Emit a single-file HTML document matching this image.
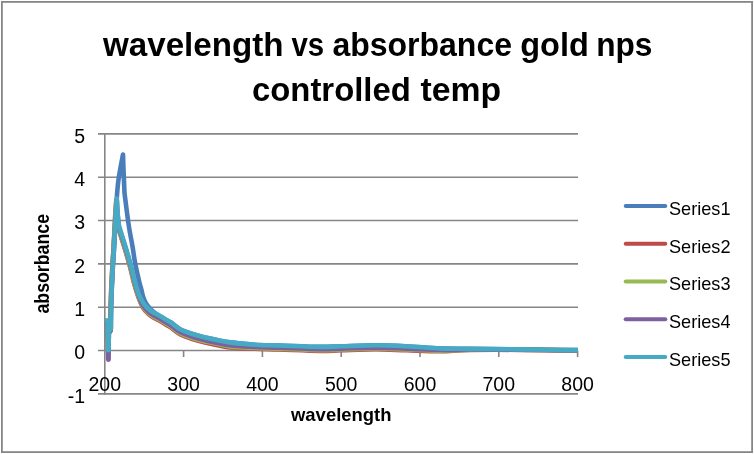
<!DOCTYPE html>
<html><head><meta charset="utf-8"><style>
html,body{margin:0;padding:0;background:#fff;}
svg{display:block;will-change:transform;}
text{font-family:"Liberation Sans",sans-serif;fill:#000;}
</style></head><body>
<svg width="754" height="454" viewBox="0 0 754 454">
<rect x="1.9" y="1.9" width="750.2" height="450.2" fill="#fff" stroke="#868686" stroke-width="1.8"/>
<g font-weight="bold" font-size="33.5"><text x="103.00" y="56" textLength="180.51" lengthAdjust="spacingAndGlyphs">wavelength</text><text x="291.50" y="56" textLength="32.71" lengthAdjust="spacingAndGlyphs">vs</text><text x="332.45" y="56" textLength="179.55" lengthAdjust="spacingAndGlyphs">absorbance</text><text x="520.23" y="56" textLength="68.59" lengthAdjust="spacingAndGlyphs">gold</text><text x="596.21" y="56" textLength="56.27" lengthAdjust="spacingAndGlyphs">nps</text><text x="252.02" y="101" textLength="158.78" lengthAdjust="spacingAndGlyphs">controlled</text><text x="420.40" y="101" textLength="80.65" lengthAdjust="spacingAndGlyphs">temp</text></g>
<g stroke="#868686" stroke-width="1.6">
<line x1="98" y1="133.90" x2="578" y2="133.90" /><line x1="98" y1="177.23" x2="578" y2="177.23" /><line x1="98" y1="220.56" x2="578" y2="220.56" /><line x1="98" y1="263.89" x2="578" y2="263.89" /><line x1="98" y1="307.22" x2="578" y2="307.22" /><line x1="98" y1="350.55" x2="578" y2="350.55" /><line x1="98" y1="393.88" x2="578" y2="393.88" />
<line x1="104.8" y1="133.1" x2="104.8" y2="394.7" />
<line x1="183.60" y1="350.5" x2="183.60" y2="357" /><line x1="262.40" y1="350.5" x2="262.40" y2="357" /><line x1="341.20" y1="350.5" x2="341.20" y2="357" /><line x1="420.00" y1="350.5" x2="420.00" y2="357" /><line x1="498.80" y1="350.5" x2="498.80" y2="357" /><line x1="577.60" y1="350.5" x2="577.60" y2="357" />
</g>
<g font-size="19.5"><text x="85" y="142.7" text-anchor="end">5</text><text x="85" y="186.0" text-anchor="end">4</text><text x="85" y="229.4" text-anchor="end">3</text><text x="85" y="272.7" text-anchor="end">2</text><text x="85" y="316.0" text-anchor="end">1</text><text x="85" y="359.3" text-anchor="end">0</text><text x="85" y="402.7" text-anchor="end">-1</text><text x="104.80" y="390.8" text-anchor="middle">200</text><text x="183.60" y="390.8" text-anchor="middle">300</text><text x="262.40" y="390.8" text-anchor="middle">400</text><text x="341.20" y="390.8" text-anchor="middle">500</text><text x="420.00" y="390.8" text-anchor="middle">600</text><text x="498.80" y="390.8" text-anchor="middle">700</text><text x="577.60" y="390.8" text-anchor="middle">800</text></g>
<g font-size="19" font-weight="bold">
<text x="291" y="421.3" textLength="100.5" lengthAdjust="spacingAndGlyphs">wavelength</text>
<text font-size="19.5" transform="translate(48.6,313.5) rotate(-90)" textLength="99.5" lengthAdjust="spacingAndGlyphs">absorbance</text>
</g>
<defs><clipPath id="pa"><rect x="105" y="133" width="473" height="261"/></clipPath></defs>
<g clip-path="url(#pa)" fill="none" stroke-width="4.6" stroke-linejoin="round" stroke-linecap="round">
<path d="M100.00,320.70 C101.30,320.70 106.50,320.70 107.80,320.70 C107.87,325.63 108.13,345.37 108.20,350.30 C108.27,350.30 108.53,350.30 108.60,350.30 C108.63,347.08 108.77,334.22 108.80,331.00 C109.13,330.67 110.47,329.33 110.80,329.00 C110.85,324.17 110.65,313.17 111.10,300.00 C111.55,286.83 112.52,267.50 113.50,250.00 C114.48,232.50 116.08,207.27 117.00,195.00 C117.92,182.73 118.00,183.15 119.00,176.40 C120.00,169.65 122.33,158.15 123.00,154.50 C123.10,157.42 123.35,165.58 123.60,172.00 C123.85,178.42 124.35,189.50 124.50,193.00 C125.20,198.33 127.35,216.00 128.70,225.00 C130.05,234.00 131.52,240.58 132.60,247.00 C133.68,253.42 134.08,257.67 135.20,263.50 C136.32,269.33 138.25,277.58 139.30,282.00 C140.35,286.42 140.85,287.50 141.50,290.00 C142.15,292.50 142.45,294.75 143.20,297.00 C143.95,299.25 144.87,301.58 146.00,303.50 C147.13,305.42 148.50,306.92 150.00,308.50 C151.50,310.08 153.33,311.67 155.00,313.00 C156.67,314.33 157.17,314.83 160.00,316.50 C162.83,318.17 170.00,321.92 172.00,323.00 C173.33,324.03 176.60,327.37 180.00,329.20 C183.40,331.03 188.23,332.63 192.40,334.00 C196.57,335.37 198.73,336.00 205.00,337.40 C211.27,338.80 221.67,341.18 230.00,342.40 C238.33,343.62 246.67,344.18 255.00,344.70 C263.33,345.22 269.17,345.13 280.00,345.50 C290.83,345.87 309.83,346.77 320.00,346.90 C330.17,347.03 331.67,346.57 341.00,346.30 C350.33,346.03 365.00,345.30 376.00,345.30 C387.00,345.30 396.33,345.78 407.00,346.30 C417.67,346.82 429.50,347.97 440.00,348.40 C450.50,348.83 456.67,348.73 470.00,348.90 C483.33,349.07 501.67,349.18 520.00,349.40 C538.33,349.62 570.00,350.07 580.00,350.20" stroke="#4A7EBB" /><path d="M100.00,320.70 C101.30,321.10 106.50,322.70 107.80,323.10 C107.87,328.03 108.13,347.77 108.20,352.70 C108.27,352.70 108.53,352.70 108.60,352.70 C108.63,349.48 108.77,336.62 108.80,333.40 C109.03,333.07 109.97,331.73 110.20,331.40 C110.28,326.57 110.35,313.07 110.70,302.40 C111.05,291.73 111.82,276.57 112.30,267.40 C112.78,258.23 113.13,255.73 113.60,247.40 C114.07,239.07 114.67,225.15 115.10,217.40 C115.53,209.65 116.02,203.65 116.20,200.90 C116.35,203.48 116.73,211.82 117.10,216.40 C117.47,220.98 118.18,226.40 118.40,228.40 C119.50,231.90 123.10,243.15 125.00,249.40 C126.90,255.65 128.23,260.07 129.80,265.90 C131.37,271.73 132.95,279.15 134.40,284.40 C135.85,289.65 137.07,293.55 138.50,297.40 C139.93,301.25 141.50,304.90 143.00,307.50 C144.50,310.10 145.83,311.38 147.50,313.00 C149.17,314.62 150.92,315.88 153.00,317.20 C155.08,318.52 156.83,319.05 160.00,320.90 C163.17,322.75 170.00,327.07 172.00,328.30 C173.33,329.28 176.60,332.42 180.00,334.20 C183.40,335.98 188.23,337.63 192.40,339.00 C196.57,340.37 198.73,341.00 205.00,342.40 C211.27,343.80 221.67,346.35 230.00,347.40 C238.33,348.45 246.67,348.35 255.00,348.70 C263.33,349.05 269.17,349.13 280.00,349.50 C290.83,349.87 309.83,350.77 320.00,350.90 C330.17,351.03 331.67,350.57 341.00,350.30 C350.33,350.03 365.00,349.30 376.00,349.30 C387.00,349.30 396.33,349.98 407.00,350.30 C417.67,350.62 429.50,351.28 440.00,351.23 C450.50,351.17 456.67,350.19 470.00,349.97 C483.33,349.74 501.67,349.76 520.00,349.88 C538.33,350.00 570.00,350.55 580.00,350.68" stroke="#BE4B48" /><path d="M100.00,320.70 C101.30,321.02 106.50,322.30 107.80,322.62 C107.87,327.55 108.13,347.29 108.20,352.22 C108.27,352.22 108.53,352.22 108.60,352.22 C108.63,349.00 108.77,336.14 108.80,332.92 C109.07,332.59 110.13,331.25 110.40,330.92 C110.48,326.09 110.55,312.59 110.90,301.92 C111.25,291.25 112.02,276.09 112.50,266.92 C112.98,257.75 113.33,255.25 113.80,246.92 C114.27,238.59 114.87,224.67 115.30,216.92 C115.73,209.17 116.22,203.17 116.40,200.42 C116.55,203.00 116.93,211.34 117.30,215.92 C117.67,220.50 118.38,225.92 118.60,227.92 C119.70,231.42 123.30,242.67 125.20,248.92 C127.10,255.17 128.43,259.59 130.00,265.42 C131.57,271.25 133.15,278.67 134.60,283.92 C136.05,289.17 137.30,293.16 138.70,296.92 C140.10,300.68 141.53,303.99 143.00,306.50 C144.47,309.01 145.83,310.38 147.50,312.00 C149.17,313.62 150.92,314.88 153.00,316.20 C155.08,317.52 156.83,318.05 160.00,319.90 C163.17,321.75 170.00,326.07 172.00,327.30 C173.33,328.28 176.60,331.42 180.00,333.20 C183.40,334.98 188.23,336.63 192.40,338.00 C196.57,339.37 198.73,340.00 205.00,341.40 C211.27,342.80 221.67,345.32 230.00,346.40 C238.33,347.48 246.67,347.52 255.00,347.90 C263.33,348.28 269.17,348.33 280.00,348.70 C290.83,349.07 309.83,349.97 320.00,350.10 C330.17,350.23 331.67,349.77 341.00,349.50 C350.33,349.23 365.00,348.50 376.00,348.50 C387.00,348.50 396.33,349.14 407.00,349.50 C417.67,349.86 429.50,350.62 440.00,350.66 C450.50,350.70 456.67,349.90 470.00,349.75 C483.33,349.61 501.67,349.65 520.00,349.78 C538.33,349.92 570.00,350.45 580.00,350.58" stroke="#98B954" /><path d="M100.00,320.70 C101.30,320.93 106.50,321.85 107.80,322.08 C107.87,328.33 108.13,353.35 108.20,359.60 C108.27,359.60 108.53,359.60 108.60,359.60 C108.63,355.06 108.77,336.92 108.80,332.38 C109.13,332.05 110.47,330.71 110.80,330.38 C110.88,325.55 110.95,312.05 111.30,301.38 C111.65,290.71 112.42,275.55 112.90,266.38 C113.38,257.21 113.73,254.71 114.20,246.38 C114.67,238.05 115.27,224.13 115.70,216.38 C116.13,208.63 116.62,202.63 116.80,199.88 C116.95,202.46 117.33,210.80 117.70,215.38 C118.07,219.96 118.78,225.38 119.00,227.38 C120.10,230.88 123.70,242.13 125.60,248.38 C127.50,254.63 128.83,259.05 130.40,264.88 C131.97,270.71 133.55,278.13 135.00,283.38 C136.45,288.63 137.77,292.71 139.10,296.38 C140.43,300.05 141.60,302.96 143.00,305.38 C144.40,307.79 145.83,309.26 147.50,310.88 C149.17,312.49 150.92,313.76 153.00,315.07 C155.08,316.39 156.83,316.92 160.00,318.77 C163.17,320.62 170.00,324.94 172.00,326.18 C173.33,327.16 176.60,330.29 180.00,332.07 C183.40,333.86 188.23,335.51 192.40,336.88 C196.57,338.24 198.73,338.88 205.00,340.27 C211.27,341.67 221.67,344.15 230.00,345.27 C238.33,346.40 246.67,346.58 255.00,347.00 C263.33,347.42 269.17,347.43 280.00,347.80 C290.83,348.17 309.83,349.07 320.00,349.20 C330.17,349.33 331.67,348.87 341.00,348.60 C350.33,348.33 365.00,347.60 376.00,347.60 C387.00,347.60 396.33,348.20 407.00,348.60 C417.67,349.00 429.50,349.87 440.00,350.03 C450.50,350.18 456.67,349.57 470.00,349.51 C483.33,349.46 501.67,349.52 520.00,349.68 C538.33,349.84 570.00,350.34 580.00,350.48" stroke="#7D60A0" /><path d="M100.00,320.70 C101.30,320.70 106.50,320.70 107.80,320.70 C107.87,325.63 108.13,345.37 108.20,350.30 C108.27,350.30 108.53,350.30 108.60,350.30 C108.63,347.08 108.77,334.22 108.80,331.00 C109.13,330.67 110.47,329.33 110.80,329.00 C110.88,324.17 110.95,310.67 111.30,300.00 C111.65,289.33 112.42,274.17 112.90,265.00 C113.38,255.83 113.73,253.33 114.20,245.00 C114.67,236.67 115.27,222.75 115.70,215.00 C116.13,207.25 116.62,201.25 116.80,198.50 C116.95,201.08 117.33,209.42 117.70,214.00 C118.07,218.58 118.78,224.00 119.00,226.00 C120.10,229.50 123.70,240.75 125.60,247.00 C127.50,253.25 128.83,257.67 130.40,263.50 C131.97,269.33 133.55,276.75 135.00,282.00 C136.45,287.25 137.77,291.58 139.10,295.00 C140.43,298.42 141.60,300.33 143.00,302.50 C144.40,304.67 145.83,306.38 147.50,308.00 C149.17,309.62 150.92,310.88 153.00,312.20 C155.08,313.52 156.83,314.05 160.00,315.90 C163.17,317.75 170.00,322.07 172.00,323.30 C173.33,324.28 176.60,327.42 180.00,329.20 C183.40,330.98 188.23,332.63 192.40,334.00 C196.57,335.37 198.73,336.00 205.00,337.40 C211.27,338.80 221.67,341.18 230.00,342.40 C238.33,343.62 246.67,344.18 255.00,344.70 C263.33,345.22 269.17,345.13 280.00,345.50 C290.83,345.87 309.83,346.77 320.00,346.90 C330.17,347.03 331.67,346.57 341.00,346.30 C350.33,346.03 365.00,345.30 376.00,345.30 C387.00,345.30 396.33,345.78 407.00,346.30 C417.67,346.82 429.50,347.97 440.00,348.40 C450.50,348.83 456.67,348.73 470.00,348.90 C483.33,349.07 501.67,349.18 520.00,349.40 C538.33,349.62 570.00,350.07 580.00,350.20" stroke="#46AAC5" />
</g>
<g stroke-width="4.2" stroke-linecap="round"><line x1="625.8" y1="206.00" x2="665.2" y2="206.00" stroke="#4A7EBB" /><line x1="625.8" y1="243.75" x2="665.2" y2="243.75" stroke="#BE4B48" /><line x1="625.8" y1="281.50" x2="665.2" y2="281.50" stroke="#98B954" /><line x1="625.8" y1="319.25" x2="665.2" y2="319.25" stroke="#7D60A0" /><line x1="625.8" y1="357.00" x2="665.2" y2="357.00" stroke="#46AAC5" /></g>
<g font-size="19"><text x="669" y="214.8" textLength="61.5" lengthAdjust="spacingAndGlyphs">Series1</text><text x="669" y="252.6" textLength="61.5" lengthAdjust="spacingAndGlyphs">Series2</text><text x="669" y="290.3" textLength="61.5" lengthAdjust="spacingAndGlyphs">Series3</text><text x="669" y="328.1" textLength="61.5" lengthAdjust="spacingAndGlyphs">Series4</text><text x="669" y="365.8" textLength="61.5" lengthAdjust="spacingAndGlyphs">Series5</text></g>
</svg>
</body></html>
